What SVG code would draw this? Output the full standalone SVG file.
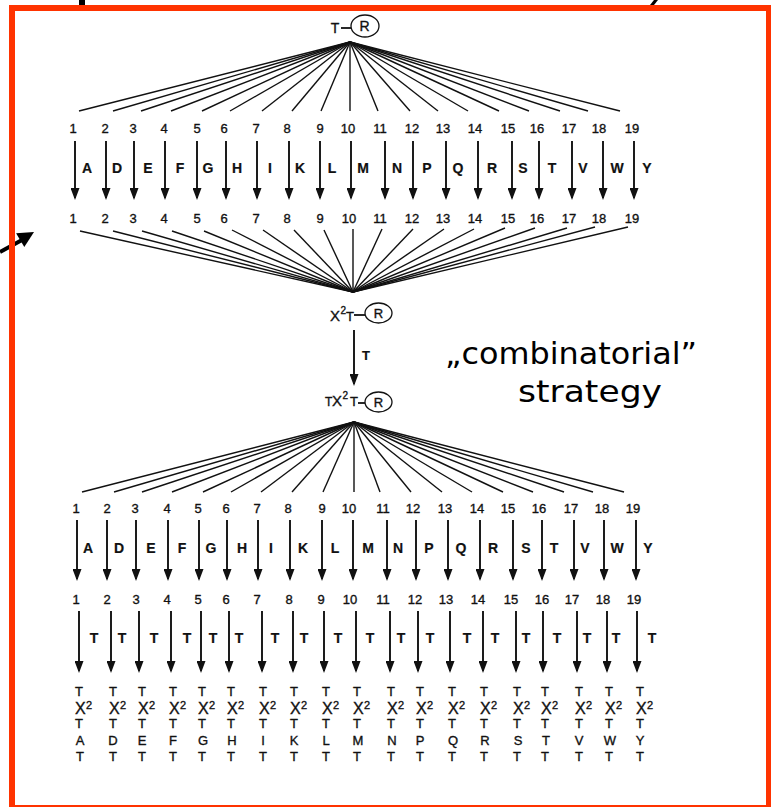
<svg xmlns="http://www.w3.org/2000/svg" width="771" height="807" viewBox="0 0 771 807">
<style>
text{font-family:"Liberation Sans",Arial,sans-serif;fill:#111;stroke:#111;stroke-width:0.35}
.n{font-size:13px;text-anchor:middle}
.l{font-size:14px;font-weight:bold;text-anchor:middle;stroke-width:0.2}
.st{font-size:13px;text-anchor:middle}
.sx{font-size:16px}
.s2{font-size:11px}
.fan{stroke:#111;stroke-width:1.4;fill:none}
.arr{stroke:#111;stroke-width:1.9;fill:none;marker-end:url(#ah)}
.ell{fill:none;stroke:#111;stroke-width:1.3}
.big{font-family:"DejaVu Sans","Liberation Sans",sans-serif;font-size:30px;fill:#000;stroke:none}
</style>
<defs>
<marker id="ah" viewBox="0 0 12 9" refX="10" refY="4.5" markerWidth="12" markerHeight="9" markerUnits="userSpaceOnUse" orient="auto">
<path d="M0,0 L12,4.5 L0,9 z" fill="#111"/>
</marker>
</defs>
<rect x="0" y="0" width="771" height="807" fill="#fff"/>
<rect x="79" y="0" width="6" height="5" fill="#000"/>
<polygon points="654,0 658,0 654,5 650,5" fill="#000"/>
<g id="left-arrow">
<line x1="0" y1="252" x2="22" y2="240" stroke="#000" stroke-width="4"/>
<polygon points="34,232 24.3,247 16.1,233.2" fill="#000"/>
</g>
<rect x="12" y="8" width="757" height="800" fill="none" stroke="#ff3300" stroke-width="6"/>

<g id="connectors">
<g id="fan-top">
<line class="fan" x1="350" y1="42" x2="79" y2="111"/><line class="fan" x1="350" y1="42" x2="113" y2="111"/><line class="fan" x1="350" y1="42" x2="141" y2="111"/><line class="fan" x1="350" y1="42" x2="171" y2="111"/><line class="fan" x1="350" y1="42" x2="202" y2="111"/><line class="fan" x1="350" y1="42" x2="230" y2="111"/><line class="fan" x1="350" y1="42" x2="262" y2="111"/><line class="fan" x1="350" y1="42" x2="292" y2="111"/><line class="fan" x1="350" y1="42" x2="321" y2="111"/><line class="fan" x1="350" y1="42" x2="350" y2="111"/><line class="fan" x1="350" y1="42" x2="378" y2="111"/><line class="fan" x1="350" y1="42" x2="410" y2="111"/><line class="fan" x1="350" y1="42" x2="438" y2="111"/><line class="fan" x1="350" y1="42" x2="468" y2="111"/><line class="fan" x1="350" y1="42" x2="499" y2="111"/><line class="fan" x1="350" y1="42" x2="529" y2="111"/><line class="fan" x1="350" y1="42" x2="560" y2="111"/><line class="fan" x1="350" y1="42" x2="588" y2="111"/><line class="fan" x1="350" y1="42" x2="620" y2="111"/>
</g>
<g id="arrows-1">
<line class="arr" x1="75" y1="141" x2="75" y2="198"/><line class="arr" x1="106" y1="141" x2="106" y2="198"/><line class="arr" x1="134" y1="141" x2="134" y2="198"/><line class="arr" x1="165" y1="141" x2="165" y2="198"/><line class="arr" x1="197" y1="141" x2="197" y2="198"/><line class="arr" x1="226" y1="141" x2="226" y2="198"/><line class="arr" x1="257" y1="141" x2="257" y2="198"/><line class="arr" x1="289" y1="141" x2="289" y2="198"/><line class="arr" x1="320" y1="141" x2="320" y2="198"/><line class="arr" x1="351" y1="141" x2="351" y2="198"/><line class="arr" x1="385" y1="141" x2="385" y2="198"/><line class="arr" x1="413" y1="141" x2="413" y2="198"/><line class="arr" x1="446" y1="141" x2="446" y2="198"/><line class="arr" x1="478" y1="141" x2="478" y2="198"/><line class="arr" x1="512" y1="141" x2="512" y2="198"/><line class="arr" x1="539" y1="141" x2="539" y2="198"/><line class="arr" x1="572" y1="141" x2="572" y2="198"/><line class="arr" x1="603" y1="141" x2="603" y2="198"/><line class="arr" x1="634" y1="141" x2="634" y2="198"/>
</g>
<g id="fan-mid">
<line class="fan" x1="80" y1="231" x2="353" y2="292"/><line class="fan" x1="113" y1="231" x2="353" y2="292"/><line class="fan" x1="142" y1="231" x2="353" y2="292"/><line class="fan" x1="172" y1="231" x2="353" y2="292"/><line class="fan" x1="204" y1="231" x2="353" y2="292"/><line class="fan" x1="232" y1="230" x2="353" y2="292"/><line class="fan" x1="263" y1="230" x2="353" y2="292"/><line class="fan" x1="294" y1="230" x2="353" y2="292"/><line class="fan" x1="324" y1="230" x2="353" y2="292"/><line class="fan" x1="353" y1="229" x2="353" y2="292"/><line class="fan" x1="382" y1="229" x2="353" y2="292"/><line class="fan" x1="413" y1="229" x2="353" y2="292"/><line class="fan" x1="444" y1="229" x2="353" y2="292"/><line class="fan" x1="474" y1="229" x2="353" y2="292"/><line class="fan" x1="505" y1="228" x2="353" y2="292"/><line class="fan" x1="535" y1="228" x2="353" y2="292"/><line class="fan" x1="567" y1="228" x2="353" y2="292"/><line class="fan" x1="595" y1="227" x2="353" y2="292"/><line class="fan" x1="628" y1="227" x2="353" y2="292"/>
</g>
<g id="arrow-T">
<line class="arr" x1="354" y1="330" x2="354" y2="384"/>
<text class="l" x="366" y="360" style="font-size:13px">T</text>
</g>
<g id="fan-bottom">
<line class="fan" x1="354" y1="422" x2="82" y2="492"/><line class="fan" x1="354" y1="422" x2="114" y2="492"/><line class="fan" x1="354" y1="422" x2="142" y2="492"/><line class="fan" x1="354" y1="422" x2="172" y2="492"/><line class="fan" x1="354" y1="422" x2="203" y2="492"/><line class="fan" x1="354" y1="422" x2="231" y2="492"/><line class="fan" x1="354" y1="422" x2="261" y2="492"/><line class="fan" x1="354" y1="422" x2="292" y2="492"/><line class="fan" x1="354" y1="422" x2="323" y2="492"/><line class="fan" x1="354" y1="422" x2="354" y2="492"/><line class="fan" x1="354" y1="422" x2="380" y2="492"/><line class="fan" x1="354" y1="422" x2="411" y2="492"/><line class="fan" x1="354" y1="422" x2="442" y2="492"/><line class="fan" x1="354" y1="422" x2="472" y2="492"/><line class="fan" x1="354" y1="422" x2="503" y2="492"/><line class="fan" x1="354" y1="422" x2="533" y2="492"/><line class="fan" x1="354" y1="422" x2="564" y2="492"/><line class="fan" x1="354" y1="422" x2="593" y2="492"/><line class="fan" x1="354" y1="422" x2="624" y2="492"/>
</g>
<g id="arrows-3">
<line class="arr" x1="77" y1="520" x2="77" y2="579"/><line class="arr" x1="107" y1="520" x2="107" y2="579"/><line class="arr" x1="136" y1="520" x2="136" y2="579"/><line class="arr" x1="168" y1="520" x2="168" y2="579"/><line class="arr" x1="199" y1="520" x2="199" y2="579"/><line class="arr" x1="227" y1="520" x2="227" y2="579"/><line class="arr" x1="258" y1="520" x2="258" y2="579"/><line class="arr" x1="290" y1="520" x2="290" y2="579"/><line class="arr" x1="322" y1="520" x2="322" y2="579"/><line class="arr" x1="353" y1="520" x2="353" y2="579"/><line class="arr" x1="387" y1="520" x2="387" y2="579"/><line class="arr" x1="416" y1="520" x2="416" y2="579"/><line class="arr" x1="448" y1="520" x2="448" y2="579"/><line class="arr" x1="480" y1="520" x2="480" y2="579"/><line class="arr" x1="513" y1="520" x2="513" y2="579"/><line class="arr" x1="542" y1="520" x2="542" y2="579"/><line class="arr" x1="574" y1="520" x2="574" y2="579"/><line class="arr" x1="604" y1="520" x2="604" y2="579"/><line class="arr" x1="636" y1="520" x2="636" y2="579"/>
</g>
<g id="arrows-4">
<line class="arr" x1="79" y1="611" x2="79" y2="671"/><line class="arr" x1="111" y1="611" x2="111" y2="671"/><line class="arr" x1="139" y1="611" x2="139" y2="671"/><line class="arr" x1="171" y1="611" x2="171" y2="671"/><line class="arr" x1="201" y1="611" x2="201" y2="671"/><line class="arr" x1="229" y1="611" x2="229" y2="671"/><line class="arr" x1="262" y1="611" x2="262" y2="671"/><line class="arr" x1="293" y1="611" x2="293" y2="671"/><line class="arr" x1="324" y1="611" x2="324" y2="671"/><line class="arr" x1="356" y1="611" x2="356" y2="671"/><line class="arr" x1="390" y1="611" x2="390" y2="671"/><line class="arr" x1="418" y1="611" x2="418" y2="671"/><line class="arr" x1="450" y1="611" x2="450" y2="671"/><line class="arr" x1="483" y1="611" x2="483" y2="671"/><line class="arr" x1="516" y1="611" x2="516" y2="671"/><line class="arr" x1="543" y1="611" x2="543" y2="671"/><line class="arr" x1="577" y1="611" x2="577" y2="671"/><line class="arr" x1="607" y1="611" x2="607" y2="671"/><line class="arr" x1="637" y1="611" x2="637" y2="671"/>
</g>
</g>

<g id="node-TR">
<text x="335" y="33" style="font-size:14px;text-anchor:middle">T</text>
<line x1="341" y1="28" x2="351" y2="28" stroke="#111" stroke-width="1.8"/>
<ellipse class="ell" cx="365" cy="26" rx="14" ry="11"/>
<text x="364.5" y="31" style="font-size:14px;text-anchor:middle">R</text>
</g>

<g id="row1-numbers">
<text class="n" x="73" y="133">1</text><text class="n" x="105" y="133">2</text><text class="n" x="133" y="133">3</text><text class="n" x="164" y="133">4</text><text class="n" x="197" y="133">5</text><text class="n" x="224" y="133">6</text><text class="n" x="256" y="133">7</text><text class="n" x="287" y="133">8</text><text class="n" x="320" y="133">9</text><text class="n" x="348" y="133">10</text><text class="n" x="380" y="133">11</text><text class="n" x="412" y="133">12</text><text class="n" x="443" y="133">13</text><text class="n" x="475" y="133">14</text><text class="n" x="508" y="133">15</text><text class="n" x="537" y="133">16</text><text class="n" x="569" y="133">17</text><text class="n" x="599" y="133">18</text><text class="n" x="632" y="133">19</text>
</g>
<g id="row1-letters">
<text class="l" x="87" y="173">A</text><text class="l" x="117" y="173">D</text><text class="l" x="148" y="173">E</text><text class="l" x="180" y="173">F</text><text class="l" x="208" y="173">G</text><text class="l" x="237" y="173">H</text><text class="l" x="270" y="173">I</text><text class="l" x="300" y="173">K</text><text class="l" x="332" y="173">L</text><text class="l" x="363" y="173">M</text><text class="l" x="397" y="173">N</text><text class="l" x="427" y="173">P</text><text class="l" x="458" y="173">Q</text><text class="l" x="492" y="173">R</text><text class="l" x="523" y="173">S</text><text class="l" x="552" y="173">T</text><text class="l" x="583" y="173">V</text><text class="l" x="617" y="173">W</text><text class="l" x="647" y="173">Y</text>
</g>
<g id="row2-numbers">
<text class="n" x="73" y="223">1</text><text class="n" x="105" y="223">2</text><text class="n" x="133" y="223">3</text><text class="n" x="164" y="223">4</text><text class="n" x="197" y="223">5</text><text class="n" x="224" y="223">6</text><text class="n" x="256" y="223">7</text><text class="n" x="287" y="223">8</text><text class="n" x="320" y="223">9</text><text class="n" x="349" y="223">10</text><text class="n" x="380" y="223">11</text><text class="n" x="412" y="223">12</text><text class="n" x="443" y="223">13</text><text class="n" x="475" y="223">14</text><text class="n" x="508" y="223">15</text><text class="n" x="537" y="223">16</text><text class="n" x="569" y="223">17</text><text class="n" x="599" y="223">18</text><text class="n" x="632" y="223">19</text>
</g>

<g id="node-X2TR">
<text x="330" y="321" style="font-size:15px">X</text>
<text x="340.5" y="314" style="font-size:10px">2</text>
<text x="346" y="321" style="font-size:13px">T</text>
<line x1="354" y1="315" x2="365" y2="315" stroke="#111" stroke-width="1.8"/>
<ellipse class="ell" cx="378.5" cy="313" rx="13.5" ry="10"/>
<text x="378.5" y="318" style="font-size:13px;text-anchor:middle">R</text>
</g>

<g id="node-TX2TR">
<text x="325" y="406" style="font-size:12px">T</text>
<text x="332" y="406" style="font-size:15px">X</text>
<text x="342.5" y="399" style="font-size:10px">2</text>
<text x="350" y="406" style="font-size:13px">T</text>
<line x1="358" y1="403" x2="365" y2="403" stroke="#111" stroke-width="1.8"/>
<ellipse class="ell" cx="378.5" cy="402" rx="13.5" ry="10"/>
<text x="378.5" y="407" style="font-size:13px;text-anchor:middle">R</text>
</g>

<g id="caption">
<text class="big" x="445" y="364" textLength="252" lengthAdjust="spacingAndGlyphs">„combinatorial”</text>
<text class="big" x="518" y="402" textLength="144" lengthAdjust="spacingAndGlyphs">strategy</text>
</g>

<g id="row3-numbers">
<text class="n" x="76" y="513">1</text><text class="n" x="107" y="513">2</text><text class="n" x="135" y="513">3</text><text class="n" x="167" y="513">4</text><text class="n" x="198" y="513">5</text><text class="n" x="226" y="513">6</text><text class="n" x="257" y="513">7</text><text class="n" x="288" y="513">8</text><text class="n" x="322" y="513">9</text><text class="n" x="349" y="513">10</text><text class="n" x="383" y="513">11</text><text class="n" x="413" y="513">12</text><text class="n" x="445" y="513">13</text><text class="n" x="477" y="513">14</text><text class="n" x="508" y="513">15</text><text class="n" x="539" y="513">16</text><text class="n" x="571" y="513">17</text><text class="n" x="602" y="513">18</text><text class="n" x="633" y="513">19</text>
</g>
<g id="row3-letters">
<text class="l" x="88" y="553">A</text><text class="l" x="119" y="553">D</text><text class="l" x="151" y="553">E</text><text class="l" x="182" y="553">F</text><text class="l" x="211" y="553">G</text><text class="l" x="242" y="553">H</text><text class="l" x="271" y="553">I</text><text class="l" x="303" y="553">K</text><text class="l" x="335" y="553">L</text><text class="l" x="368" y="553">M</text><text class="l" x="398" y="553">N</text><text class="l" x="429" y="553">P</text><text class="l" x="461" y="553">Q</text><text class="l" x="493" y="553">R</text><text class="l" x="526" y="553">S</text><text class="l" x="554" y="553">T</text><text class="l" x="585" y="553">V</text><text class="l" x="617" y="553">W</text><text class="l" x="648" y="553">Y</text>
</g>
<g id="row4-numbers">
<text class="n" x="76" y="604">1</text><text class="n" x="107" y="604">2</text><text class="n" x="136" y="604">3</text><text class="n" x="167" y="604">4</text><text class="n" x="198" y="604">5</text><text class="n" x="226" y="604">6</text><text class="n" x="257" y="604">7</text><text class="n" x="289" y="604">8</text><text class="n" x="321" y="604">9</text><text class="n" x="350" y="604">10</text><text class="n" x="383" y="604">11</text><text class="n" x="415" y="604">12</text><text class="n" x="446" y="604">13</text><text class="n" x="478" y="604">14</text><text class="n" x="511" y="604">15</text><text class="n" x="542" y="604">16</text><text class="n" x="572" y="604">17</text><text class="n" x="603" y="604">18</text><text class="n" x="634" y="604">19</text>
</g>
<g id="row4-T">
<text class="l" x="94" y="643">T</text><text class="l" x="122" y="643">T</text><text class="l" x="154" y="643">T</text><text class="l" x="187" y="643">T</text><text class="l" x="213" y="643">T</text><text class="l" x="239" y="643">T</text><text class="l" x="275" y="643">T</text><text class="l" x="304" y="643">T</text><text class="l" x="338" y="643">T</text><text class="l" x="370" y="643">T</text><text class="l" x="401" y="643">T</text><text class="l" x="430" y="643">T</text><text class="l" x="467" y="643">T</text><text class="l" x="495" y="643">T</text><text class="l" x="526" y="643">T</text><text class="l" x="557" y="643">T</text><text class="l" x="587" y="643">T</text><text class="l" x="616" y="643">T</text><text class="l" x="652" y="643">T</text>
</g>

<g id="products">
<g id="p1"><text class="st" x="79" y="696">T</text><text class="sx" x="75" y="714">X</text><text class="s2" x="86" y="709">2</text><text class="st" x="79" y="728">T</text><text class="st" x="80" y="745">A</text><text class="st" x="80" y="761">T</text></g>
<g id="p2"><text class="st" x="113" y="696">T</text><text class="sx" x="109" y="714">X</text><text class="s2" x="120" y="709">2</text><text class="st" x="113" y="728">T</text><text class="st" x="113" y="745">D</text><text class="st" x="113" y="761">T</text></g>
<g id="p3"><text class="st" x="142" y="696">T</text><text class="sx" x="138" y="714">X</text><text class="s2" x="149" y="709">2</text><text class="st" x="142" y="728">T</text><text class="st" x="142" y="745">E</text><text class="st" x="142" y="761">T</text></g>
<g id="p4"><text class="st" x="173" y="696">T</text><text class="sx" x="169" y="714">X</text><text class="s2" x="180" y="709">2</text><text class="st" x="173" y="728">T</text><text class="st" x="173" y="745">F</text><text class="st" x="173" y="761">T</text></g>
<g id="p5"><text class="st" x="202" y="696">T</text><text class="sx" x="198" y="714">X</text><text class="s2" x="209" y="709">2</text><text class="st" x="202" y="728">T</text><text class="st" x="203" y="745">G</text><text class="st" x="202" y="761">T</text></g>
<g id="p6"><text class="st" x="231" y="696">T</text><text class="sx" x="227" y="714">X</text><text class="s2" x="238" y="709">2</text><text class="st" x="231" y="728">T</text><text class="st" x="232" y="745">H</text><text class="st" x="231" y="761">T</text></g>
<g id="p7"><text class="st" x="263" y="696">T</text><text class="sx" x="259" y="714">X</text><text class="s2" x="270" y="709">2</text><text class="st" x="263" y="728">T</text><text class="st" x="263" y="745">I</text><text class="st" x="263" y="761">T</text></g>
<g id="p8"><text class="st" x="294" y="696">T</text><text class="sx" x="290" y="714">X</text><text class="s2" x="301" y="709">2</text><text class="st" x="294" y="728">T</text><text class="st" x="294" y="745">K</text><text class="st" x="294" y="761">T</text></g>
<g id="p9"><text class="st" x="326" y="696">T</text><text class="sx" x="322" y="714">X</text><text class="s2" x="333" y="709">2</text><text class="st" x="326" y="728">T</text><text class="st" x="326" y="745">L</text><text class="st" x="326" y="761">T</text></g>
<g id="p10"><text class="st" x="357" y="696">T</text><text class="sx" x="353" y="714">X</text><text class="s2" x="364" y="709">2</text><text class="st" x="357" y="728">T</text><text class="st" x="358" y="745">M</text><text class="st" x="357" y="761">T</text></g>
<g id="p11"><text class="st" x="391" y="696">T</text><text class="sx" x="387" y="714">X</text><text class="s2" x="398" y="709">2</text><text class="st" x="391" y="728">T</text><text class="st" x="392" y="745">N</text><text class="st" x="391" y="761">T</text></g>
<g id="p12"><text class="st" x="420" y="696">T</text><text class="sx" x="416" y="714">X</text><text class="s2" x="427" y="709">2</text><text class="st" x="420" y="728">T</text><text class="st" x="420" y="745">P</text><text class="st" x="420" y="761">T</text></g>
<g id="p13"><text class="st" x="452" y="696">T</text><text class="sx" x="448" y="714">X</text><text class="s2" x="459" y="709">2</text><text class="st" x="452" y="728">T</text><text class="st" x="453" y="745">Q</text><text class="st" x="452" y="761">T</text></g>
<g id="p14"><text class="st" x="484" y="696">T</text><text class="sx" x="480" y="714">X</text><text class="s2" x="491" y="709">2</text><text class="st" x="484" y="728">T</text><text class="st" x="485" y="745">R</text><text class="st" x="484" y="761">T</text></g>
<g id="p15"><text class="st" x="517" y="696">T</text><text class="sx" x="513" y="714">X</text><text class="s2" x="524" y="709">2</text><text class="st" x="517" y="728">T</text><text class="st" x="518" y="745">S</text><text class="st" x="517" y="761">T</text></g>
<g id="p16"><text class="st" x="545" y="696">T</text><text class="sx" x="541" y="714">X</text><text class="s2" x="552" y="709">2</text><text class="st" x="545" y="728">T</text><text class="st" x="546" y="745">T</text><text class="st" x="545" y="761">T</text></g>
<g id="p17"><text class="st" x="579" y="696">T</text><text class="sx" x="575" y="714">X</text><text class="s2" x="586" y="709">2</text><text class="st" x="579" y="728">T</text><text class="st" x="579" y="745">V</text><text class="st" x="579" y="761">T</text></g>
<g id="p18"><text class="st" x="609" y="696">T</text><text class="sx" x="605" y="714">X</text><text class="s2" x="616" y="709">2</text><text class="st" x="609" y="728">T</text><text class="st" x="610" y="745">W</text><text class="st" x="609" y="761">T</text></g>
<g id="p19"><text class="st" x="640" y="696">T</text><text class="sx" x="636" y="714">X</text><text class="s2" x="647" y="709">2</text><text class="st" x="640" y="728">T</text><text class="st" x="640" y="745">Y</text><text class="st" x="640" y="761">T</text></g>
</g>
</svg>
